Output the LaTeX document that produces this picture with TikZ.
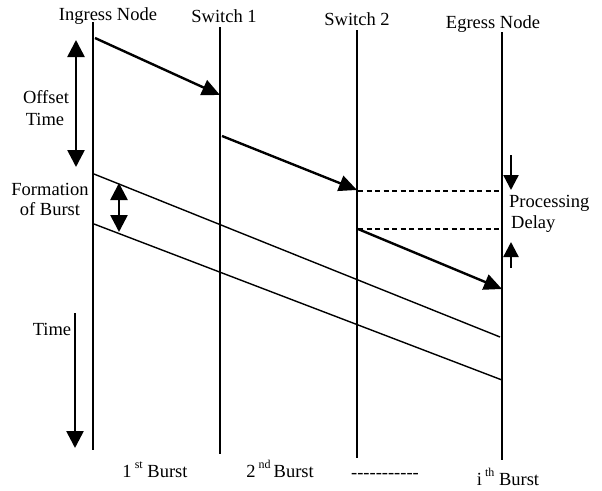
\documentclass[tikz,border=0pt]{standalone}
\usepackage{fontspec}
\setmainfont{Liberation Serif}
\newfontfamily\plainserif{Liberation Serif}
\usetikzlibrary{arrows.meta}
\begin{document}
\begin{tikzpicture}[x=1pt,y=-1pt,
  lbl/.style={inner sep=0pt,anchor=base,font=\fontsize{18.5}{21}\selectfont},
  lifeline/.style={line width=1.6pt},
  ctrl/.style={line width=2.4pt,-{Triangle[length=18pt,width=16pt]}},
  burst/.style={line width=1.4pt},
  delay/.style={line width=1.3pt,dash pattern=on 5pt off 3.5pt},
  span/.style={line width=2.6pt,{Triangle[length=17pt,width=17pt]}-{Triangle[length=17pt,width=17pt]}},
  onearrow/.style={line width=2.6pt,-{Triangle[length=17pt,width=17pt]}},
  small/.style={line width=2.4pt,-{Triangle[length=15pt,width=15pt]}},
  sup/.style={}]
\useasboundingbox (0,0) rectangle (602,490);

% lifelines of the four nodes
\coordinate (ingT) at (93,22);  \coordinate (ingB) at (93,450);
\coordinate (s1T)  at (220,27); \coordinate (s1B)  at (220,454);
\coordinate (s2T)  at (357,30); \coordinate (s2B)  at (357,458);
\coordinate (egT)  at (502,32); \coordinate (egB)  at (502,460);
\draw[lifeline] (ingT) -- (ingB);
\draw[lifeline] (s1T) -- (s1B);
\draw[lifeline] (s2T) -- (s2B);
\draw[lifeline] (egT) -- (egB);

% node titles
\node[lbl] (tIng) at (108,20) {Ingress Node};
\node[lbl] (tS1)  at (224,22) {Switch 1};
\node[lbl] (tS2)  at (357,25) {Switch 2};
\node[lbl] (tEg)  at (493,28) {Egress Node};

% control packet hops
\coordinate (c1a) at (95,38);   \coordinate (c1b) at (220,95);
\coordinate (c2a) at (222,136); \coordinate (c2b) at (357,190);
\coordinate (c3a) at (358,229); \coordinate (c3b) at (502,289);
\draw[ctrl] (c1a) -- (c1b);
\draw[ctrl] (c2a) -- (c2b);
\draw[ctrl] (c3a) -- (c3b);

% burst transmission
\coordinate (b1a) at (94,174); \coordinate (b1b) at (500,337);
\coordinate (b2a) at (94,224); \coordinate (b2b) at (502,380);
\draw[burst] (b1a) -- (b1b);
\draw[burst] (b2a) -- (b2b);

% processing delay marks
\coordinate (d1a) at (358,191); \coordinate (d1b) at (500,191);
\coordinate (d2a) at (358,229); \coordinate (d2b) at (500,229);
\draw[delay] (d1a) -- (d1b);
\draw[delay] (d2a) -- (d2b);

% offset time
\coordinate (offT) at (76,40); \coordinate (offB) at (76,167);
\draw[span] (offT) -- (offB);
\node[lbl] (offL1) at (46,103) {Offset};
\node[lbl] (offL2) at (45,125) {Time};

% burst formation
\coordinate (formT) at (119,183); \coordinate (formB) at (119,232);
\draw[span] (formT) -- (formB);
\node[lbl] (formL1) at (50,195) {Formation};
\node[lbl] (formL2) at (50,215) {of Burst};

% time axis
\coordinate (timeT) at (75,313); \coordinate (timeB) at (75,448);
\draw[onearrow] (timeT) -- (timeB);
\node[lbl] (timeL) at (52,335) {Time};

% processing delay arrows
\coordinate (pdT) at (511,155); \coordinate (pdB) at (511,190);
\coordinate (puB) at (511,268); \coordinate (puT) at (511,242);
\draw[small] (pdT) -- (pdB);
\draw[small] (puB) -- (puT);
\node[lbl,anchor=base west] (procL1) at (509,207) {Processing};
\node[lbl,anchor=base west] (procL2) at (511,228) {Delay};

% burst labels (ordinal suffix raised high, with a gap before the word)
\newcommand{\ordsuf}[1]{\raisebox{9pt}{\fontsize{12}{12}\selectfont #1}}
\node[lbl] (bst1) at (155,477) {1\,\ordsuf{st} Burst};
\node[lbl] (bst2) at (280,477) {2\,\ordsuf{nd}\,Burst};
\node[lbl] (bstd) at (385,478) {\plainserif -----------};
\node[lbl] (bsti) at (508,485) {i\,\ordsuf{th} Burst};
\end{tikzpicture}
\end{document}
